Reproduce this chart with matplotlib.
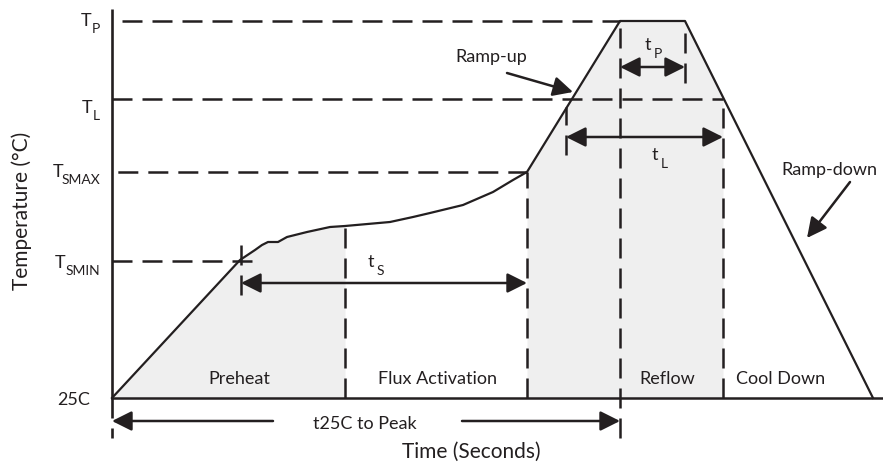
import numpy as np
import matplotlib
matplotlib.use("Agg")
import matplotlib.pyplot as plt
from matplotlib.patches import ArrowStyle

plt.rcParams['font.family'] = ['Lato', 'DejaVu Sans']
plt.rcParams['lines.scale_dashes'] = False

# ---- data (time units, temperature units relative to 25C) ----
profile_time = [0, 128, 143, 150, 156, 166, 175, 195, 218, 233, 278, 301, 318, 351, 381, 401, 415, 508, 573, 761]
profile_temp = [0, 138, 148, 153, 156, 156, 161, 166, 171, 172, 176, 181, 185, 193, 206, 218, 226, 377, 377, 0]

level_main = ['T', 'T', 'T', 'T']
level_sub = ['P', 'L', 'SMAX', 'SMIN']
level_value = [377, 299, 226, 137]
level_line_end = [508, 611, 415, 141]
base_label = '25C'

t_smin = 129
t_preheat_end = 233
t_soak_end = 415
t_liq_start = 454
t_peak_start = 508
t_peak_end = 573
t_liq_end = 611
t_axis_end = 771

phase_names = ['Preheat', 'Flux Activation', 'Reflow', 'Cool Down']
phase_centers = [127, 325, 555, 669]

INK = '#231f20'
FILL = '#efefef'
ON, OFF = 14.4, 7.2
DASH = (0, (ON, OFF))
level_dash_offset = [ON, 0, ON + 3, 0]

fig = plt.figure(figsize=(8.83, 4.63), dpi=100)
ax = fig.add_axes([0, 0, 1, 1])
ax.set_xlim(-112, 771)
ax.set_ylim(-65, 398)
ax.axis('off')

pt = np.array(profile_time, float)
pv = np.array(profile_temp, float)

def fill_region(a, b):
    xs = np.concatenate([[a], pt[(pt > a) & (pt < b)], [b]])
    ys = np.interp(xs, pt, pv)
    ax.fill_between(xs, 0, ys, color=FILL, lw=0, zorder=1)

fill_region(0, t_preheat_end)
fill_region(t_soak_end, t_liq_end)

# axes lines
ax.plot([0, 0], [0, 389], color=INK, lw=1.9, zorder=3, solid_capstyle='butt')
ax.plot([0, t_axis_end], [0, 0], color=INK, lw=1.8, zorder=3)
ax.plot([0, 0], [0, -40], color=INK, lw=1.9, ls=DASH, zorder=3)

# profile
ax.plot(pt, pv, color=INK, lw=1.6, zorder=4, solid_joinstyle='round')

# horizontal dashed level lines
for v, e, off in zip(level_value, level_line_end, level_dash_offset):
    ax.plot([0, e], [v, v], color=INK, lw=1.8, ls=(off, (ON, OFF)), zorder=2)

# vertical dashed lines
def vdash(x, y0, y1):
    ax.plot([x, x], [y0, y1], color=INK, lw=1.8, ls=DASH, zorder=2)

vdash(t_preheat_end, 0, np.interp(t_preheat_end, pt, pv))
vdash(t_soak_end, 0, level_value[2])
vdash(t_peak_start, -40, level_value[0])
vdash(t_liq_end, 0, level_value[1])
vdash(t_peak_end, 315, 368)
vdash(t_liq_start, 243, 291)
vdash(t_smin, 103, 153)

style_dbl = ArrowStyle('<|-|>', head_length=0.8, head_width=0.4)
style_one = ArrowStyle('-|>', head_length=0.8, head_width=0.4)

def arrow(x0, y0, x1, y1, style):
    ax.annotate('', xy=(x1, y1), xytext=(x0, y0),
                arrowprops=dict(arrowstyle=style, color=INK, lw=1.8,
                                shrinkA=0, shrinkB=0, mutation_scale=15),
                zorder=5)

arrow(t_smin, 115, t_soak_end, 115, style_dbl)
arrow(t_peak_start, 331, t_peak_end, 331, style_dbl)
arrow(t_liq_start, 261, t_liq_end, 261, style_dbl)
arrow(161, -23, 0, -23, style_one)
arrow(350, -23, t_peak_start, -23, style_one)
arrow(395, 325, 461, 306, style_one)
arrow(738, 216, 695, 160, style_one)

FS = 13
SUB = 10
# span labels
def tlabel(x, y, sub):
    ax.text(x, y, 't', fontsize=FS, color=INK, ha='center', va='center')
    ax.text(x + 6, y - 9, sub, fontsize=SUB, color=INK, ha='left', va='center')

tlabel(259, 136, 'S')
tlabel(536, 353, 'P')
tlabel(543, 243, 'L')

ax.text(379, 341, 'Ramp-up', fontsize=FS, color=INK, ha='center', va='center')
ax.text(717, 228, 'Ramp-down', fontsize=FS, color=INK, ha='center', va='center')
ax.text(253, -26, 't25C to Peak', fontsize=FS, color=INK, ha='center', va='center')

for name, cx in zip(phase_names, phase_centers):
    ax.text(cx, 19, name, fontsize=FS, color=INK, ha='center', va='center', zorder=6)

# axis labels
ax.text(359, -54, 'Time (Seconds)', fontsize=15, color=INK, ha='center', va='center')
ax.text(-90, 187, 'Temperature (°C)', fontsize=15, color=INK, ha='center', va='center', rotation=90)

# level tick labels
label_offsets = [0, -9, 0, -2]
for m, s, v, off in zip(level_main, level_sub, level_value, label_offsets):
    ax.text(-12, v + off - 8, s, fontsize=SUB, color=INK, ha='right', va='center')
    sub_w = {'P': 7, 'L': 6, 'SMAX': 35, 'SMIN': 33}[s]
    ax.text(-12 - sub_w - 2, v + off, m, fontsize=FS, color=INK, ha='right', va='center')
ax.text(-22, -2, base_label, fontsize=FS, color=INK, ha='right', va='center')

fig.savefig('out.png', dpi=100)
